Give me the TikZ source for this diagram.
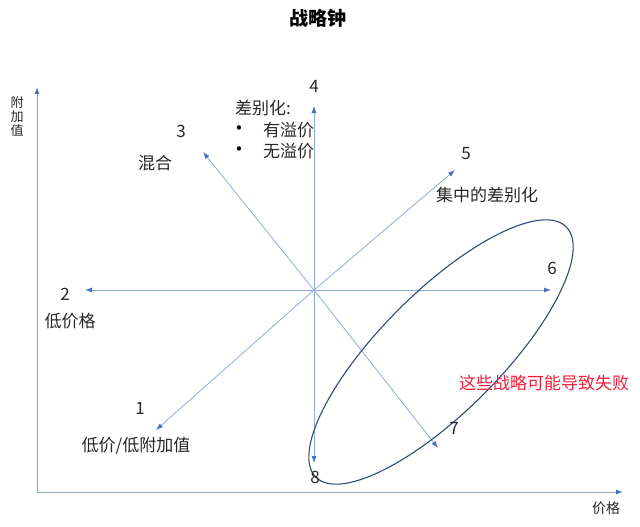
\documentclass[tikz,border=0pt]{standalone}
\usepackage{fontspec}
\setmainfont{Noto Sans CJK SC}
\newfontfamily\dejavu{DejaVu Sans}
\usetikzlibrary{arrows.meta}
\definecolor{lineblue}{HTML}{8FAADC}
\definecolor{tipblue}{HTML}{4472C4}
\definecolor{navy}{HTML}{2F4A78}
\definecolor{failred}{HTML}{F0203A}
\tikzset{
  ray/.style={draw=lineblue, line width=0.8pt, -{Latex[length=7pt,width=5pt,color=tipblue]}},
  axisline/.style={draw=lineblue, line width=0.9pt, -{Latex[length=7pt,width=5pt,color=tipblue]}},
  lbl/.style={inner sep=0pt, font=\fontsize{17}{20}\selectfont, text=black!85},
  num/.style={inner sep=0pt, font=\fontsize{17}{20}\selectfont, text=black!85},
  bul/.style={inner sep=0pt, font=\dejavu\fontsize{15}{18}\selectfont, text=black},
}
\begin{document}
\begin{tikzpicture}[x=1pt,y=-1pt]
\useasboundingbox (0,0) rectangle (640,527);
% axes
\coordinate (O) at (37,492);
\coordinate (Ytop) at (37,87);
\coordinate (Xend) at (623,492);
\draw[axisline] (O) -- (Ytop);
\draw[axisline] (O) -- (Xend);
\node[inner sep=0pt, font=\fontsize{13}{14}\selectfont, align=center, text=black!85] (yl) at (17,117) {附\\加\\值};
\node[inner sep=0pt, font=\fontsize{14}{16}\selectfont, text=black!85] (xl) at (606,508) {价格};
% title
\node[inner sep=0pt, font=\fontsize{19}{22}\selectfont\bfseries] (title) at (318,18) {战略钟};
% star
\coordinate (C) at (314,290);
\coordinate (e4) at (314,106);
\coordinate (e8) at (314,463);
\coordinate (e2) at (85,290);
\coordinate (e6) at (551,290);
\coordinate (e3) at (203,152);
\coordinate (e5) at (455,170);
\coordinate (e1) at (156,430);
\coordinate (e7) at (438,448);
\foreach \e in {e1,e2,e3,e4,e5,e6,e7,e8} \draw[ray] (C) -- (\e);
% ellipse
\draw[navy, line width=1.1pt] (441,352) ellipse[x radius=177, y radius=60, rotate=45];
% labels
\node[num] (n4) at (314,86) {4};
\node[num] (n3) at (181,131) {3};
\node[lbl] (t3) at (155,163) {混合};
\node[num] (n5) at (466,154) {5};
\node[lbl, anchor=west] (t5) at (436,195) {集中的差别化};
\node[num] (n2) at (65,294) {2};
\node[lbl] (t2) at (70,321) {低价格};
\node[num] (n6) at (552,268) {6};
\node[num] (n1) at (140,408) {1};
\node[lbl] (t1) at (136,446) {低价/低附加值};
\node[num] (n7) at (454,428) {7};
\node[num] (n8) at (315,477) {8};
\node[lbl, anchor=west, text=failred] (fail) at (459,383) {这些战略可能导致失败};
\node[lbl, anchor=west] (diff) at (235,108) {差别化:};
\node[bul] (b1) at (239,130) {•};
\node[lbl, anchor=west] (d1) at (263,130) {有溢价};
\node[bul] (b2) at (239,151) {•};
\node[lbl, anchor=west] (d2) at (263,151) {无溢价};
\end{tikzpicture}
\end{document}
